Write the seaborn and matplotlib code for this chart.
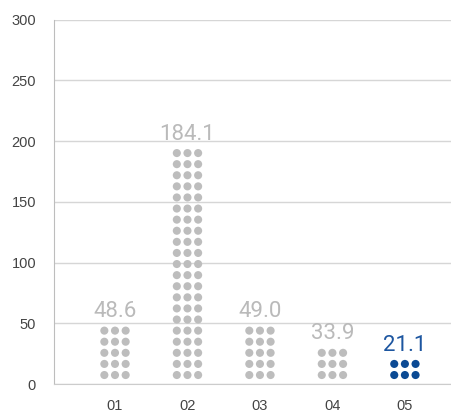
import pandas as pd
import numpy as np
import matplotlib.pyplot as plt
import seaborn as sns

# Data
categories = ['01', '02', '03', '04', '05']
values = [48.6, 184.1, 49.0, 33.9, 21.1]
dot_rows = [5, 21, 5, 3, 2]   # rows of dots drawn in each column
highlight = '05'

gray = '#bdbdbd'
blue = '#0b4a94'
row_step = 9.14
row_start = 7.4
col_offsets = [-0.147, 0, 0.147]

# Build dot table
recs = []
for i, (cat, n) in enumerate(zip(categories, dot_rows)):
    for r in range(n):
        for dx in col_offsets:
            recs.append({'x': i + dx, 'y': row_start + r * row_step,
                         'grp': 'hi' if cat == highlight else 'lo'})
dots = pd.DataFrame(recs)

sns.set_style('white')
plt.rcParams['font.family'] = ['Liberation Sans', 'DejaVu Sans']

fig = plt.figure(figsize=(4.51, 4.13), dpi=100)
ax = fig.add_axes([0.12, 0.0702, 0.88, 0.882])

sns.scatterplot(data=dots, x='x', y='y', hue='grp',
                palette={'lo': gray, 'hi': blue}, s=34, linewidth=0,
                legend=False, ax=ax, zorder=3)

# Value labels above dot columns
for i, (cat, v, n) in enumerate(zip(categories, values, dot_rows)):
    top = row_start + (n - 1) * row_step
    ax.text(i, top + 11, f'{v:.1f}', ha='center', va='baseline',
            fontsize=16, family=['Roboto', 'DejaVu Sans'],
            color='#1d56a0' if cat == highlight else '#bababa', zorder=4)

ax.set_xlim(-0.84, 4.636)
ax.set_ylim(0, 300)
ax.set_yticks(range(0, 301, 50))
ax.set_xticks(range(len(categories)))
ax.set_xticklabels(categories)
ax.set_xlabel('')
ax.set_ylabel('')

ax.yaxis.grid(True, color='#d6d6d6', linewidth=1)
ax.set_axisbelow(True)
for side in ['top', 'right']:
    ax.spines[side].set_visible(False)
ax.spines['left'].set_color('#bdbdbd')
ax.spines['bottom'].set_color('#cccccc')
ax.tick_params(axis='both', length=0, labelsize=10.5, labelcolor='#444444')
ax.tick_params(axis='y', pad=13)
ax.tick_params(axis='x', pad=11)

plt.savefig('out.png', dpi=100)
